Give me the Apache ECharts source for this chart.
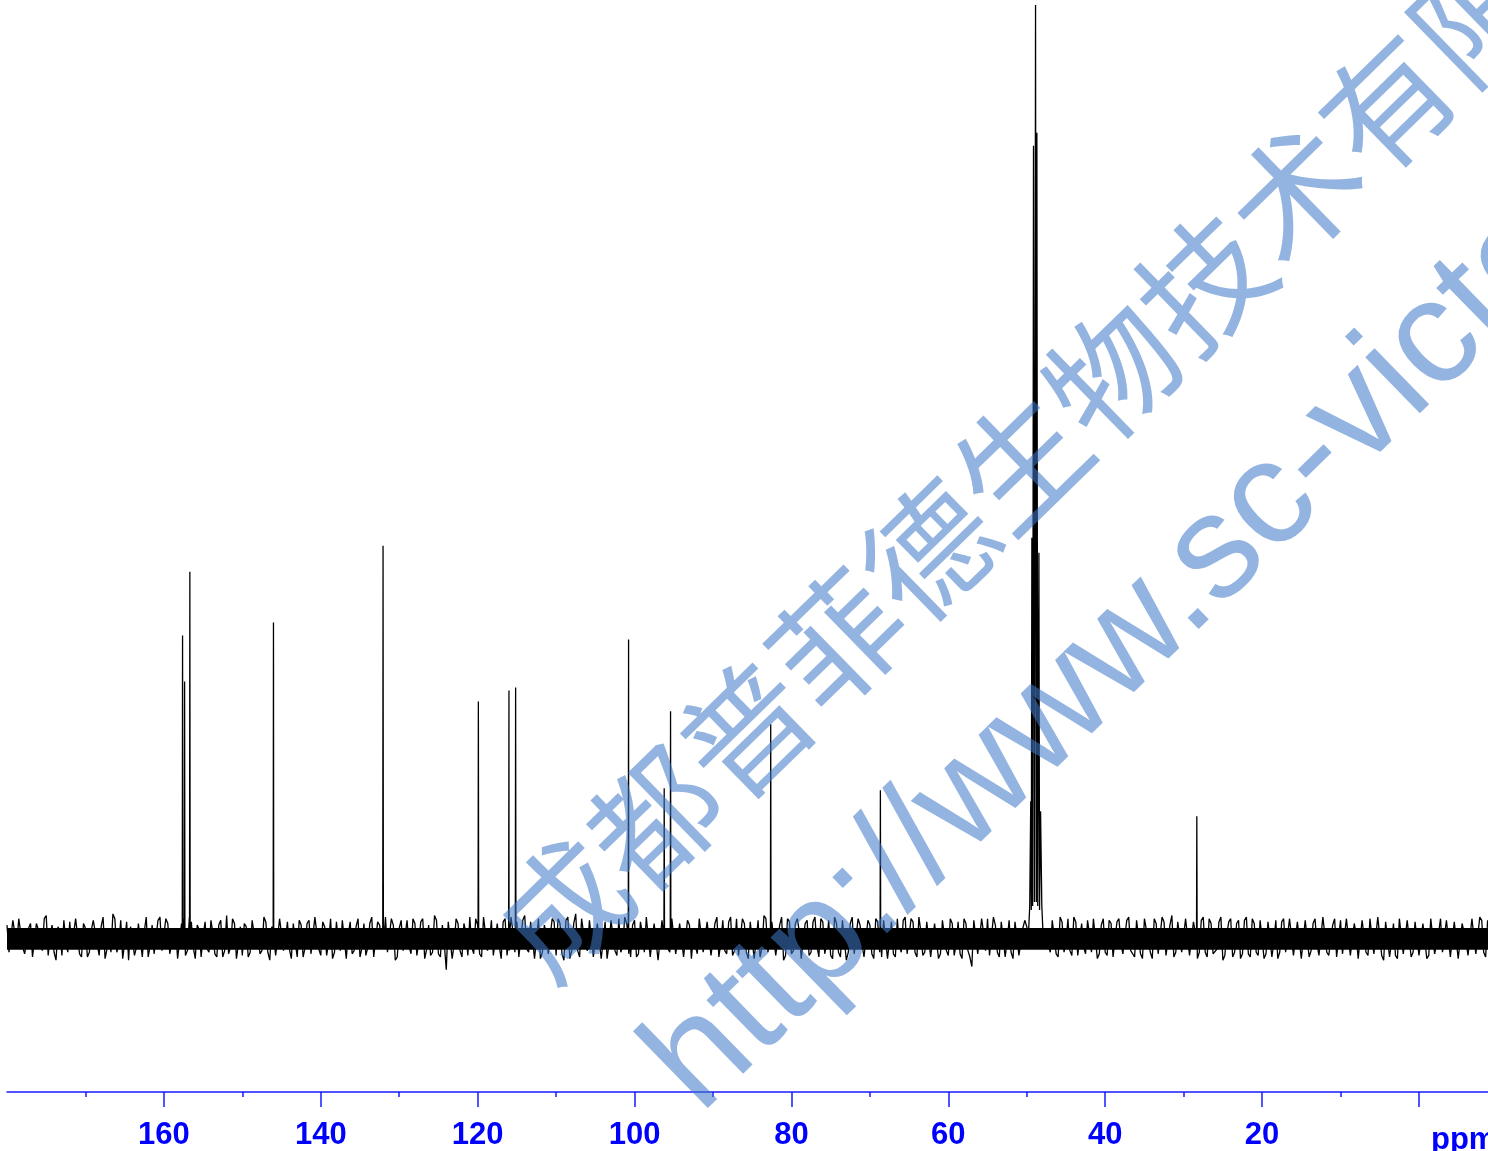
<!DOCTYPE html>
<html><head><meta charset="utf-8">
<script src="https://cdn.jsdelivr.net/npm/echarts@6/dist/echarts.min.js"></script>
<style>html,body{margin:0;padding:0;background:#fff}#c{width:1488px;height:1151px}</style>
</head><body><div id="c"></div>
<script>
// ---- axis ----
const ppmMax = 180, ppmMin = -8.8;
const majorTicks = [160, 140, 120, 100, 80, 60, 40, 20, 0];
const tickLabels = [160, 140, 120, 100, 80, 60, 40, 20];
const minorTicks = [170, 150, 130, 110, 90, 70, 50, 30, 10];
const yMax = 940, yMin = -154.5;

// ---- peaks (ppm, intensity) ----
const peakPpm    = [157.62, 157.36, 156.69, 146.03, 132.06, 119.91, 116.01, 115.16, 100.76, 96.22, 95.41, 82.64, 68.66, 28.32];
const peakHeight = [303,    257,    367,    316,    393,    237,    248,    251,    299,    150,   227,   214,   148,   122];

// ---- solvent multiplet (CD3OD) ----
const solventPpm    = [49.8, 49.62, 49.49, 49.42, 49.35, 49.25, 49.14, 49.02, 48.88, 48.78, 48.71, 48.6, 48.45, 48.37, 48.24, 48.08, 47.9];
const solventHeight = [0,    32,    137,   28,    401,   32,    794,   36,    935,   36,    807,   32,   386,   28,    127,   32,    0];

// ---- baseline noise (noise units), set A every 0.5 ppm from 180, set B every 0.5 ppm from 179.75 ----
const noiseStep = 0.5, noiseUnit = 1.6;
const noiseStartA = 180;
const noiseA = [
 8,-10,3,12,-6,-2,9,-12,5,-8,14,2,-9,7,-11,-3,10,-5,13,-12,
 6,-9,11,-4,7,-13,2,15,-9,11,-3,-14,7,-6,10,4,-12,8,-10,13,
 -7,9,-11,6,-2,12,-8,10,-13,5,1,-7,11,-10,8,-12,14,-6,9,-4,
 -11,7,-9,12,3,-8,10,-14,6,-10,13,-1,-7,9,-12,8,-6,11,-9,14,
 -11,7,-3,-13,10,-8,12,2,-10,7,-12,9,-6,13,-11,8,-4,-9,12,-14,
 6,-8,11,-10,9,-2,12,-7,-11,14,-10,8,-20,11,-4,9,-12,3,13,-10,
 8,-12,12,-3,-11,9,-13,12,-8,4,10,-12,14,-9,11,-1,-13,8,-10,12,
 -11,9,-14,13,-8,15,-12,3,-8,12,-11,10,-2,-13,11,-8,12,-5,9,-12,
 11,-10,3,13,-12,9,-14,11,-4,-9,12,-11,10,-13,8,2,-10,12,-9,11,
 -12,13,-3,-8,10,-11,12,-10,9,-13,11,-2,-12,14,-9,10,-11,8,-14,12,
 -10,9,4,-12,11,-9,13,-12,10,-3,-11,13,-9,11,-14,9,-10,12,-4,-11,
 8,-13,10,-12,11,-2,-10,12,-9,13,-11,10,-12,4,-9,11,-13,9,-10,12,
 -11,9,-4,-10,12,-8,-18,11,-9,3,12,-10,8,-12,11,-2,-9,10,-11,6,
 7,-8,0,0,0,0,-9,11,-12,10,-3,-8,13,-11,9,-10,2,12,-13,8,
 -9,11,-12,10,-3,-11,13,-9,11,-10,12,-2,-13,9,-11,10,-12,14,-9,11,
 -10,12,-11,3,-9,13,-12,9,-11,10,-14,2,12,-9,11,-10,13,-12,9,-11,
 12,-10,11,-3,-13,10,-9,12,-11,10,-13,11,-12,9,-4,-10,14,-11,8,-12,
 11,-9,13,-10,2,-12,10,-11,13,-9,12,-14,9,-3,-11,12,-10,11,-12,10,
 -11,9,-13,12,-10,3,-9,11,-12,10,-13,9,-2,-11,12,-10,11,-12
];
const noiseStartB = 179.75;
const noiseB = [
 -9,11,-4,13,-10,6,-12,9,-3,12,-11,8,-14,4,11,-9,-6,12,-10,9,
 -12,5,10,-11,13,-7,-9,12,-4,-13,10,7,-11,9,-12,13,-5,-10,11,-8,
 12,-10,4,-13,9,-11,13,-6,8,-12,10,-9,3,-12,11,-8,-10,12,-13,7,
 9,-12,11,-5,-10,13,-9,7,-11,12,-8,10,-13,-3,11,-12,9,-10,13,-7,
 10,-11,12,-9,-4,11,-13,10,-8,12,-6,-11,9,-12,10,-3,13,-10,8,-12,
 11,-9,-5,12,-11,10,-13,8,-9,11,-12,-4,10,-13,12,-8,9,-11,-6,12,
 -10,13,-8,11,-12,-5,10,-11,13,-9,-12,11,-7,10,-13,12,-9,3,-11,10,
 12,-10,11,-13,9,-8,12,-6,11,-12,9,-13,10,-4,12,-11,-9,13,-10,8,
 -12,10,-9,12,-11,8,-13,10,-7,12,-10,9,-12,11,-13,-5,12,-9,10,-11,
 9,-12,11,-10,13,-8,-11,12,-9,10,-13,11,-6,12,-10,9,-12,13,-11,10,
 -8,12,-13,9,-11,10,-5,12,-10,11,-13,9,-12,10,-9,13,-11,8,-12,11,
 -10,12,-9,11,-13,10,-12,-4,11,-10,12,-9,13,-11,10,-12,9,-13,11,-8,
 12,-11,10,-13,9,-12,11,-10,12,-8,-11,13,-9,10,-12,11,-13,9,-10,11,
 -12,10,0,0,0,0,11,-10,13,-9,12,-11,10,-12,-6,11,-9,13,-10,12,
 -11,9,-13,12,-10,11,-8,-12,10,-13,11,-9,12,-10,13,-11,8,-12,10,-9,
 12,-11,10,-13,11,-9,12,-10,-7,13,-11,10,-12,9,-13,11,-10,12,-9,11,
 -13,10,-12,11,-9,12,-10,13,-11,9,-12,10,-8,12,-11,13,-9,-10,12,-11,
 -10,12,-11,9,-13,11,-9,12,-10,13,-11,10,-12,9,-13,11,-10,12,-9,11,
 -12,10,-11,13,-9,12,-10,11,-13,9,-12,10,-11,12,-10,13,-9,11
];
const noiseCore = [-12, 10];

// ---- watermark ----
const watermarkCn = '成都普菲德生物技术有限公司';
const watermarkUrl = 'http://www.sc-victory.com';

// build spectrum
const pts = [];
const solHi = solventPpm[0] + 0.05, solLo = solventPpm[solventPpm.length - 1] - 0.05;
function addNoise(arr, start) {
  arr.forEach((v, i) => {
    const p = start - i * noiseStep;
    if (p < solHi && p > solLo) return;
    pts.push([p, v * noiseUnit]);
  });
}
addNoise(noiseA, noiseStartA);
addNoise(noiseB, noiseStartB);
peakPpm.forEach((p, i) => { pts.push([p + 0.04, 0], [p, peakHeight[i]], [p - 0.04, 0]); });
solventPpm.forEach((p, i) => pts.push([p, solventHeight[i]]));
pts.sort((a, b) => b[0] - a[0]);

const blue = '#1a1aff';
const ang = 44.3 * Math.PI / 180;
const chart = echarts.init(document.getElementById('c'), null, {renderer: 'canvas'});
chart.setOption({
  animation: false,
  backgroundColor: '#ffffff',
  grid: {left: 7, right: 0, top: 0, bottom: 56.5, containLabel: false},
  xAxis: [{
    type: 'value', inverse: true, min: ppmMin, max: ppmMax, position: 'bottom',
    axisLine: {show: true, onZero: false, lineStyle: {color: blue, width: 1.5}},
    axisTick: {show: true, length: 15, customValues: majorTicks, lineStyle: {color: blue, width: 1.5}},
    axisLabel: {show: true, customValues: tickLabels, color: '#0000ff', fontSize: 31, fontWeight: 'bold',
      fontFamily: '"Liberation Sans", Arial, sans-serif', margin: 28},
    splitLine: {show: false}
  }, {
    type: 'value', inverse: true, min: ppmMin, max: ppmMax, position: 'bottom',
    axisLine: {show: false, onZero: false},
    axisTick: {show: true, length: 5, customValues: minorTicks, lineStyle: {color: blue, width: 1.5}},
    axisLabel: {show: false, customValues: minorTicks},
    splitLine: {show: false}
  }],
  yAxis: {type: 'value', min: yMin, max: yMax, show: false, splitLine: {show: false}},
  series: [{
    type: 'line', data: pts, showSymbol: false, symbol: 'none', z: 2,
    lineStyle: {color: '#000', width: 1.3},
    markArea: {silent: true, itemStyle: {color: '#000'},
      data: [[{yAxis: noiseCore[0]}, {yAxis: noiseCore[1]}]]}
  }],
  graphic: [
    {type: 'text', x: 1431, y: 1125, z: 50,
     style: {text: 'ppm', fill: '#0000ff', font: 'bold 31px "Liberation Sans", Arial, sans-serif', textVerticalAlign: 'top'}},
    {type: 'text', x: 517, y: 953, rotation: ang, z: 100, silent: true,
     style: {text: watermarkCn, fill: 'rgba(62,120,200,0.56)', font: 'normal 128px "Noto Sans CJK SC"',
       textAlign: 'left', textVerticalAlign: 'middle'}},
    {type: 'text', x: 672, y: 1086, rotation: ang, z: 100, silent: true,
     style: {text: watermarkUrl, fill: 'rgba(62,120,200,0.56)', font: 'normal 148px "Liberation Sans", Arial, sans-serif',
       textAlign: 'left', textVerticalAlign: 'middle'}}
  ]
});
</script>
</body></html>
